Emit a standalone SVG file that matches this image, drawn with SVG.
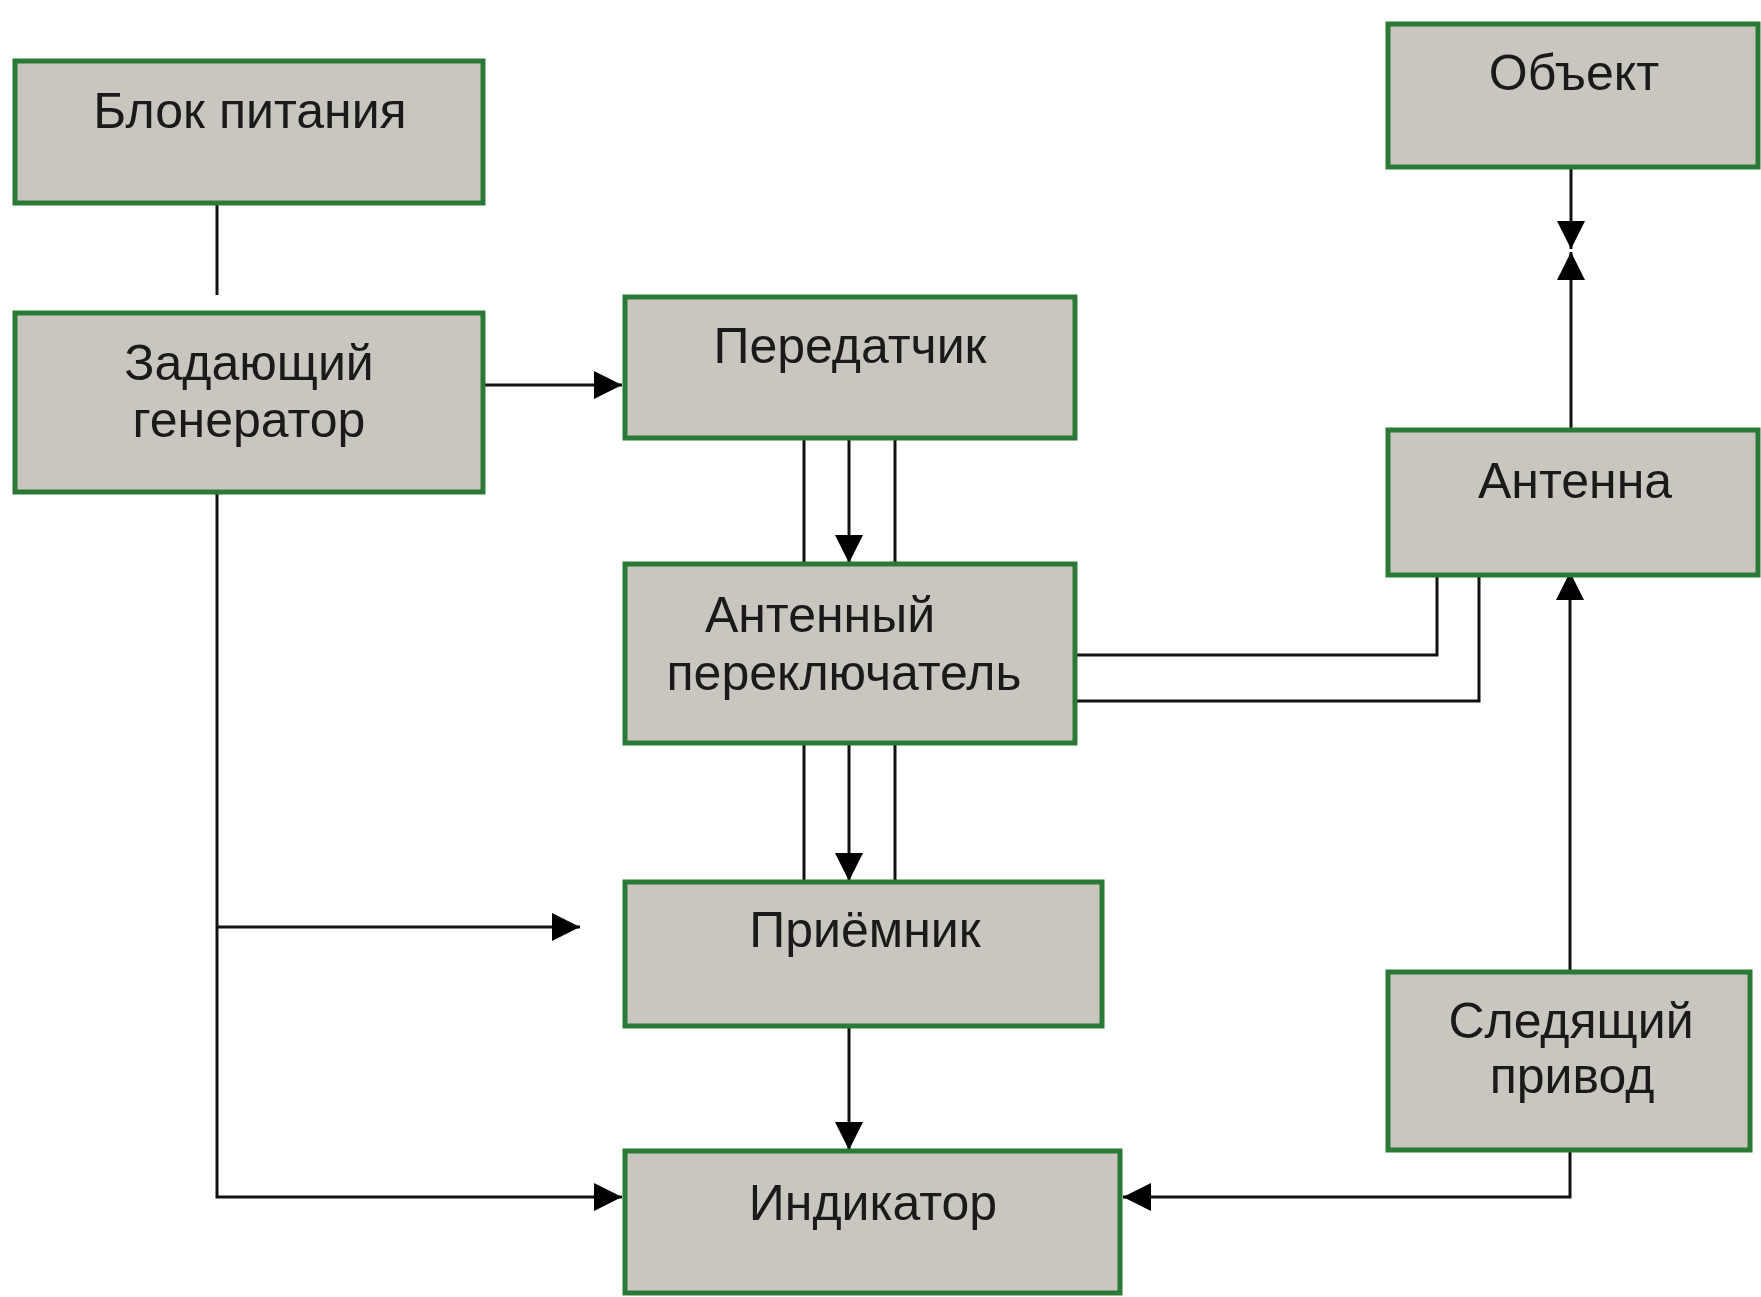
<svg xmlns="http://www.w3.org/2000/svg" width="1761" height="1297" viewBox="0 0 1761 1297">
<style>
.box{fill:#c9c6bf;stroke:#2a7a36;stroke-width:5}
.t{font-family:"Liberation Sans",Arial,sans-serif;font-size:50px;fill:#1a1a1a;text-anchor:middle}
.c{fill:none;stroke:#111;stroke-width:3}
</style>
<defs>
<marker id="arr" markerUnits="userSpaceOnUse" markerWidth="28" markerHeight="28" refX="28" refY="14" orient="auto" viewBox="0 0 28 28">
<path d="M0,0 L28,14 L0,28 z" fill="#000"/>
</marker>
</defs>
<rect width="1761" height="1297" fill="#fff"/>
<g id="connectors">
<path class="c" d="M217,203 V295"/>
<path class="c" d="M485,385 H622" marker-end="url(#arr)"/>
<path class="c" d="M804,432 V564"/>
<path class="c" d="M849,432 V563" marker-end="url(#arr)"/>
<path class="c" d="M895,432 V564"/>
<path class="c" d="M804,743 V882"/>
<path class="c" d="M849,743 V881" marker-end="url(#arr)"/>
<path class="c" d="M895,743 V882"/>
<path class="c" d="M849,1015 V1150" marker-end="url(#arr)"/>
<path class="c" d="M217,473 V1197 H622" marker-end="url(#arr)"/>
<path class="c" d="M217,927 H580" marker-end="url(#arr)"/>
<path class="c" d="M1075,655 H1437 V565"/>
<path class="c" d="M1075,701 H1479 V565"/>
<path class="c" d="M1570,970 V572" marker-end="url(#arr)"/>
<path class="c" d="M1570,1150 V1197 H1123" marker-end="url(#arr)"/>
<path class="c" d="M1571,160 V249" marker-end="url(#arr)"/>
<path class="c" d="M1571,430 V252" marker-end="url(#arr)"/>
</g>
<g id="blok-pitaniya">
<rect class="box" x="15" y="61" width="468" height="142"/>
<text class="t" x="250" y="128">Блок питания</text>
</g>
<g id="zadayushchiy-generator">
<rect class="box" x="15" y="313" width="468" height="179"/>
<text class="t" x="249" y="380">Задающий</text>
<text class="t" x="249" y="437">генератор</text>
</g>
<g id="peredatchik">
<rect class="box" x="625" y="297" width="450" height="141"/>
<text class="t" x="850" y="363">Передатчик</text>
</g>
<g id="antennyy-pereklyuchatel">
<rect class="box" x="625" y="564" width="450" height="179"/>
<text class="t" x="820" y="632">Антенный</text>
<text class="t" x="844" y="690">переключатель</text>
</g>
<g id="priemnik">
<rect class="box" x="625" y="882" width="477" height="144"/>
<text class="t" x="865" y="947">Приёмник</text>
</g>
<g id="indikator">
<rect class="box" x="625" y="1151" width="495" height="142"/>
<text class="t" x="873" y="1220">Индикатор</text>
</g>
<g id="obekt">
<rect class="box" x="1388" y="24" width="370" height="143"/>
<text class="t" x="1574" y="90">Объект</text>
</g>
<g id="antenna">
<rect class="box" x="1388" y="430" width="370" height="145"/>
<text class="t" x="1575" y="498">Антенна</text>
</g>
<g id="sledyashchiy-privod">
<rect class="box" x="1388" y="972" width="362" height="178"/>
<text class="t" x="1571" y="1038">Следящий</text>
<text class="t" x="1572" y="1093">привод</text>
</g>
</svg>
